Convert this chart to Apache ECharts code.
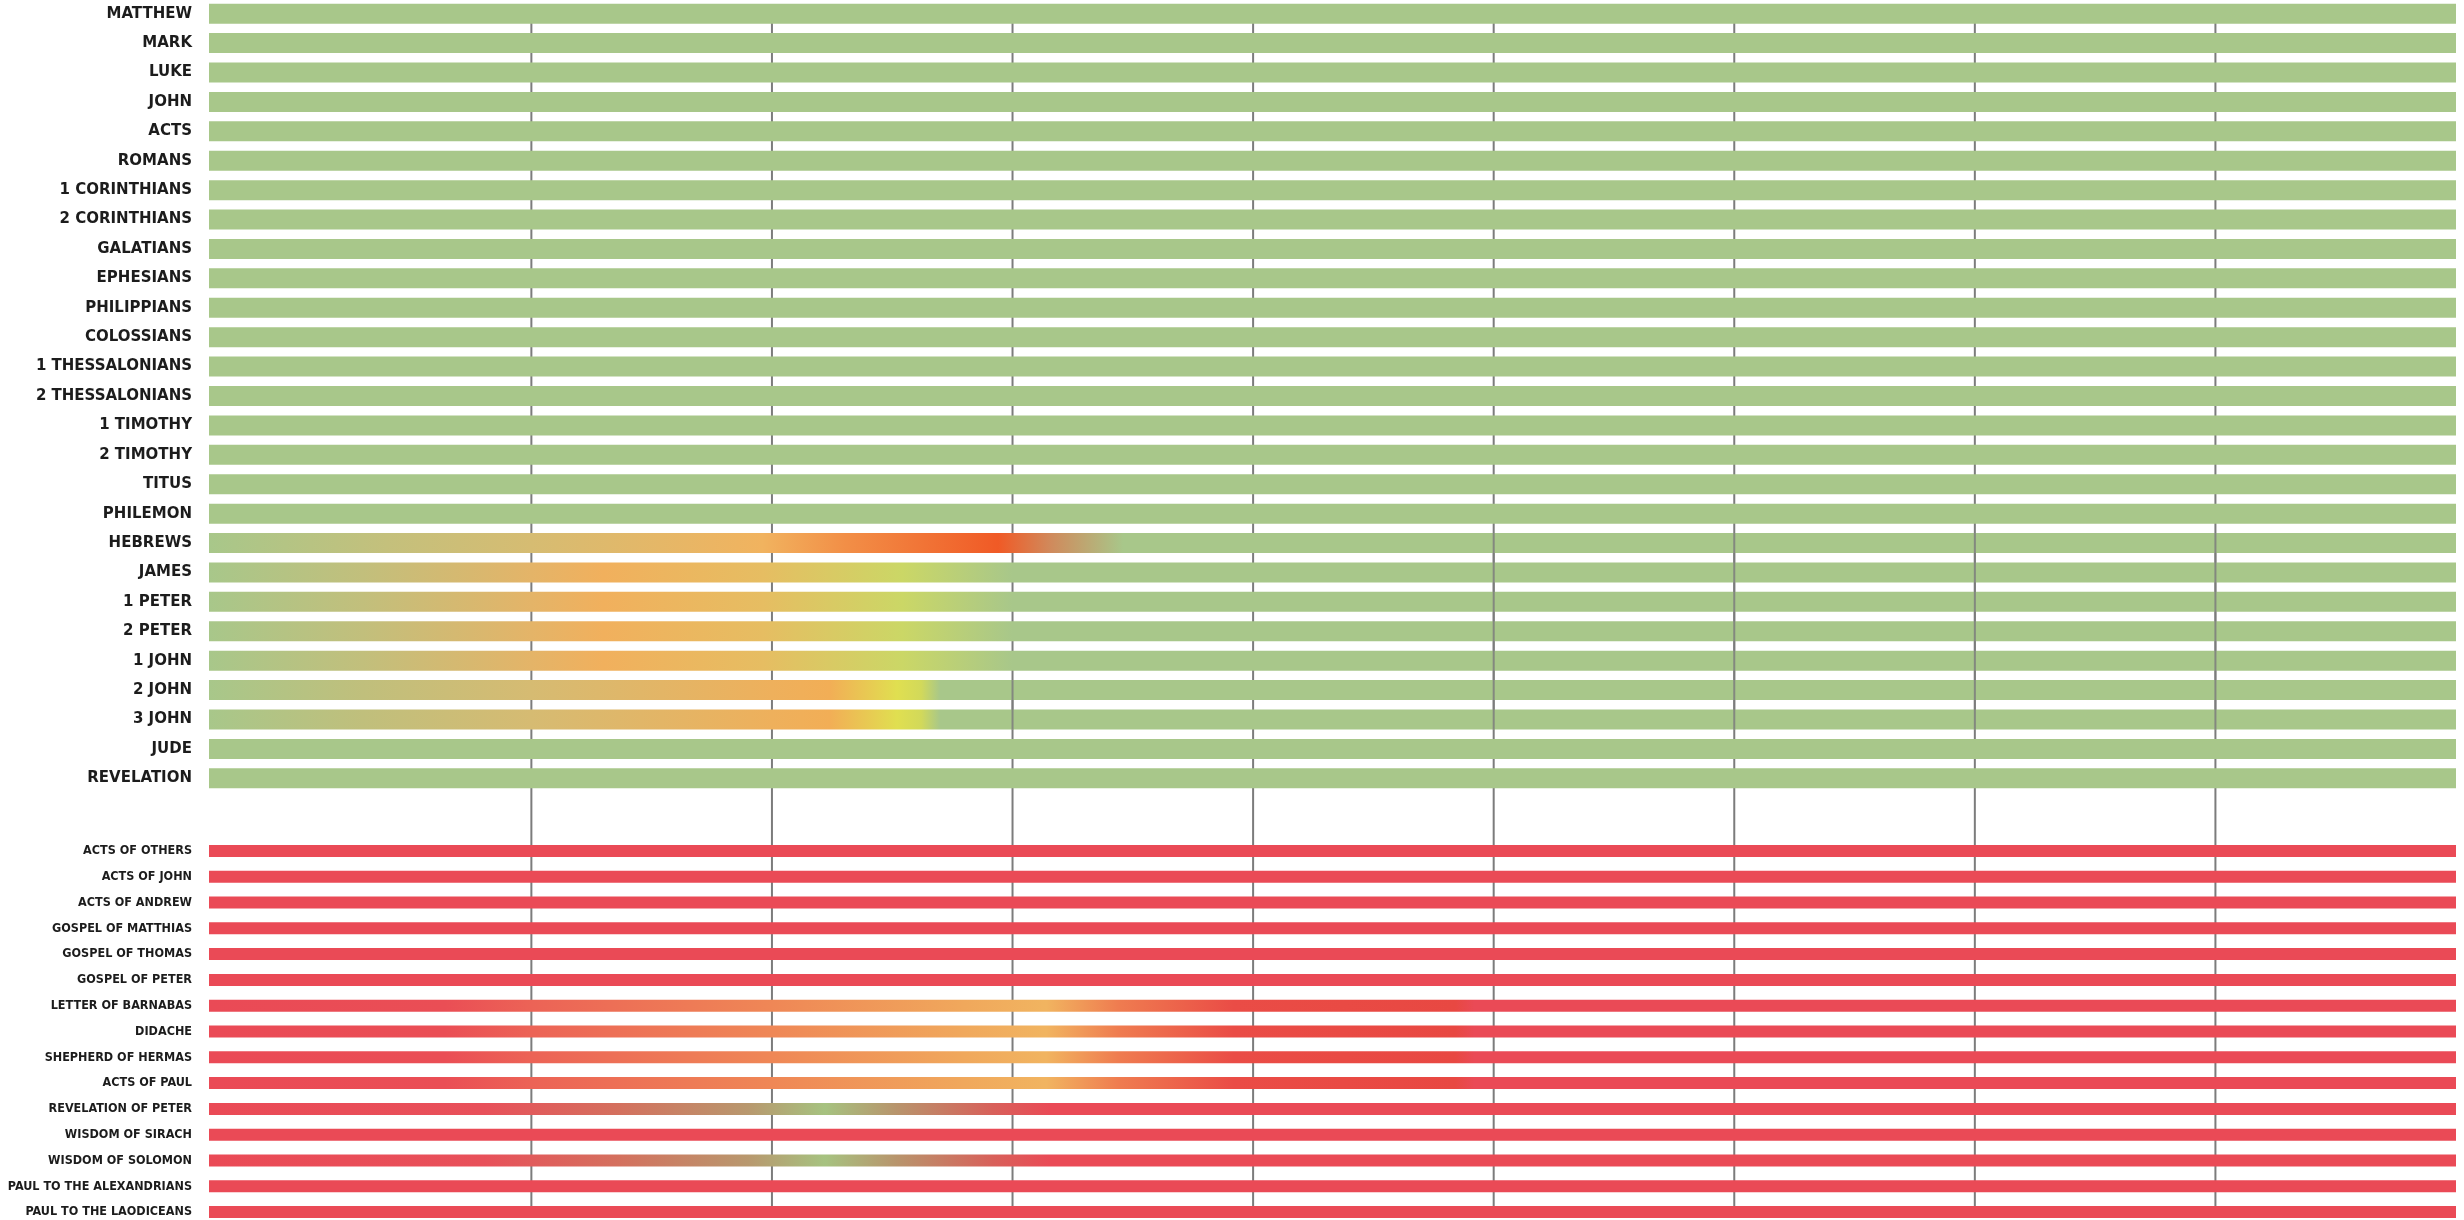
<!DOCTYPE html>
<html>
<head>
<meta charset="utf-8">
<script src="https://cdn.jsdelivr.net/npm/echarts@6/dist/echarts.min.js"></script>
<style>
  html, body { margin: 0; padding: 0; background: #fff; }
  #main { width: 2464px; height: 1220px; }
</style>
</head>
<body>
<div id="main"></div>
<script>
// timeline (years AD) covered by every bar
const timelineStart = 33
const timelineEnd = 500
const gridYears = [100, 150, 200, 250, 300, 350, 400, 450]

const canonBooks = ['MATTHEW', 'MARK', 'LUKE', 'JOHN', 'ACTS', 'ROMANS', '1 CORINTHIANS', '2 CORINTHIANS',
  'GALATIANS', 'EPHESIANS', 'PHILIPPIANS', 'COLOSSIANS', '1 THESSALONIANS', '2 THESSALONIANS',
  '1 TIMOTHY', '2 TIMOTHY', 'TITUS', 'PHILEMON', 'HEBREWS', 'JAMES', '1 PETER', '2 PETER',
  '1 JOHN', '2 JOHN', '3 JOHN', 'JUDE', 'REVELATION']
const canonEnd = [500, 500, 500, 500, 500, 500, 500, 500, 500, 500, 500, 500, 500, 500,
  500, 500, 500, 500, 500, 500, 500, 500, 500, 500, 500, 500, 500]

const otherBooks = ['ACTS OF OTHERS', 'ACTS OF JOHN', 'ACTS OF ANDREW', 'GOSPEL OF MATTHIAS',
  'GOSPEL OF THOMAS', 'GOSPEL OF PETER', 'LETTER OF BARNABAS', 'DIDACHE', 'SHEPHERD OF HERMAS',
  'ACTS OF PAUL', 'REVELATION OF PETER', 'WISDOM OF SIRACH', 'WISDOM OF SOLOMON',
  'PAUL TO THE ALEXANDRIANS', 'PAUL TO THE LAODICEANS']
const otherEnd = [500, 500, 500, 500, 500, 500, 500, 500, 500, 500, 500, 500, 500, 500, 500]

// status over time: [year, colour] stops
const hebrewsStops = [[33, '#a8c78a'], [70, '#c4c07c'], [100, '#d6bc72'], [148, '#f1b35f'],
  [165, '#f28f47'], [197, '#f05a26'], [208, '#d08a5c'], [223, '#a8c78a']]
const generalStops = [[33, '#a8c78a'], [65, '#c2bf7c'], [100, '#e4b468'], [115, '#f1b05d'],
  [148, '#e6bd62'], [177, '#cbd766'], [200, '#a8c78a']]
const johnLetterStops = [[33, '#a8c78a'], [65, '#c0bf7c'], [100, '#d6bb72'], [150, '#eeb05c'],
  [162, '#f2ae56'], [176, '#e0df50'], [181, '#d2d95a'], [185, '#a8c78a']]
const fatherStops = [[33, '#ea4a56'], [82, '#ea4e55'], [100, '#ec6356'], [150, '#ef8756'],
  [190, '#f0a85c'], [207, '#f1b460'], [222, '#ef7c50'], [246, '#ea4c46'], [292, '#e84842'], [296, '#ea4a56']]
const wisdomStops = [[33, '#ea4a56'], [90, '#e8505a'], [118, '#d4705e'], [145, '#b8986e'],
  [161, '#a6c280'], [176, '#b8946c'], [196, '#d8605a'], [208, '#ea4a56']]

const canonShifts = {
  'HEBREWS': hebrewsStops, 'JAMES': generalStops, '1 PETER': generalStops, '2 PETER': generalStops,
  '1 JOHN': generalStops, '2 JOHN': johnLetterStops, '3 JOHN': johnLetterStops
}
const otherShifts = {
  'LETTER OF BARNABAS': fatherStops, 'DIDACHE': fatherStops, 'SHEPHERD OF HERMAS': fatherStops,
  'ACTS OF PAUL': fatherStops, 'REVELATION OF PETER': wisdomStops, 'WISDOM OF SOLOMON': wisdomStops
}

// guide lines that show through the disputed bars: [year, first row, last row]
const crossingLines = [[200, '2 JOHN', '3 JOHN'], [300, 'HEBREWS', '3 JOHN'], [350, 'HEBREWS', '3 JOHN'],
  [400, 'HEBREWS', '3 JOHN'], [450, 'HEBREWS', '3 JOHN']]

const green = '#a8c78a'
const red = '#ea4a56'
const guide = '#7c7c7c'

let mychart = echarts.init(document.getElementById('main'))

const fillFor = (stops, base) => {
  if (!stops) return base
  const span = timelineEnd - timelineStart
  return new echarts.graphic.LinearGradient(0, 0, 1, 0,
    stops.map(s => ({ offset: (s[0] - timelineStart) / span, color: s[1] })))
}

// one bar = [start, end, row]
const barRenderer = (height, books, shifts, base) => (params, api) => {
  const row = api.value(2)
  const p0 = api.coord([api.value(0), row])
  const p1 = api.coord([api.value(1), row])
  return {
    type: 'rect',
    shape: { x: p0[0], y: p0[1] - height / 2, width: p1[0] - p0[0], height: height },
    style: { fill: fillFor(shifts[books[row]], base) }
  }
}

const xAxisBase = (gi) => ({
  type: 'value', gridIndex: gi, min: timelineStart, max: timelineEnd, show: false
})

const yLabel = (font, size) => ({
  show: true, margin: 17, color: '#1c1c1c', fontFamily: font, fontWeight: 'bold', fontSize: size
})

var option = {
  backgroundColor: '#ffffff',
  animation: false,
  grid: [
    { left: 209, right: 8, top: -1, height: 794, outerBoundsMode: 'none' },
    { left: 209, right: 8, top: 838, height: 387, outerBoundsMode: 'none' },
    { left: 209, right: 8, top: 23, height: 1184, outerBoundsMode: 'none' }
  ],
  xAxis: [xAxisBase(0), xAxisBase(1), xAxisBase(2)],
  yAxis: [
    {
      type: 'category', gridIndex: 0, inverse: true, data: canonBooks,
      axisLine: { show: false }, axisTick: { show: false }, splitLine: { show: false },
      axisLabel: yLabel('DejaVu Sans', 15)
    },
    {
      type: 'category', gridIndex: 1, inverse: true, data: otherBooks,
      axisLine: { show: false }, axisTick: { show: false }, splitLine: { show: false },
      axisLabel: yLabel("'DejaVu Sans Condensed', sans-serif", 12.5)
    },
    { type: 'value', gridIndex: 2, min: 0, max: 1, show: false }
  ],
  series: [
    {
      // vertical guide lines behind the bars
      type: 'custom', xAxisIndex: 2, yAxisIndex: 2, z: 1, silent: true,
      data: gridYears.map(y => [y]),
      renderItem: (params, api) => {
        const a = api.coord([api.value(0), 1])
        const b = api.coord([api.value(0), 0])
        return {
          type: 'line',
          shape: { x1: a[0], y1: a[1], x2: b[0], y2: b[1] },
          style: { stroke: guide, lineWidth: 2 }
        }
      }
    },
    {
      type: 'custom', xAxisIndex: 0, yAxisIndex: 0, z: 2, silent: true,
      data: canonBooks.map((b, i) => [timelineStart, canonEnd[i], i]),
      renderItem: barRenderer(20, canonBooks, canonShifts, green)
    },
    {
      type: 'custom', xAxisIndex: 1, yAxisIndex: 1, z: 2, silent: true,
      data: otherBooks.map((b, i) => [timelineStart, otherEnd[i], i]),
      renderItem: barRenderer(12, otherBooks, otherShifts, red)
    },
    {
      // guide lines drawn over the disputed rows
      type: 'custom', xAxisIndex: 0, yAxisIndex: 0, z: 3, silent: true,
      data: crossingLines.map(c => [c[0], canonBooks.indexOf(c[1]), canonBooks.indexOf(c[2])]),
      renderItem: (params, api) => {
        const a = api.coord([api.value(0), api.value(1)])
        const b = api.coord([api.value(0), api.value(2)])
        return {
          type: 'line',
          shape: { x1: a[0], y1: a[1] - 10, x2: b[0], y2: b[1] + 10 },
          style: { stroke: guide, lineWidth: 2, opacity: 0.85 }
        }
      }
    }
  ]
};

mychart.setOption(option)

window.addEventListener('resize', () => {
  mychart.resize()
})
</script>
</body>
</html>
